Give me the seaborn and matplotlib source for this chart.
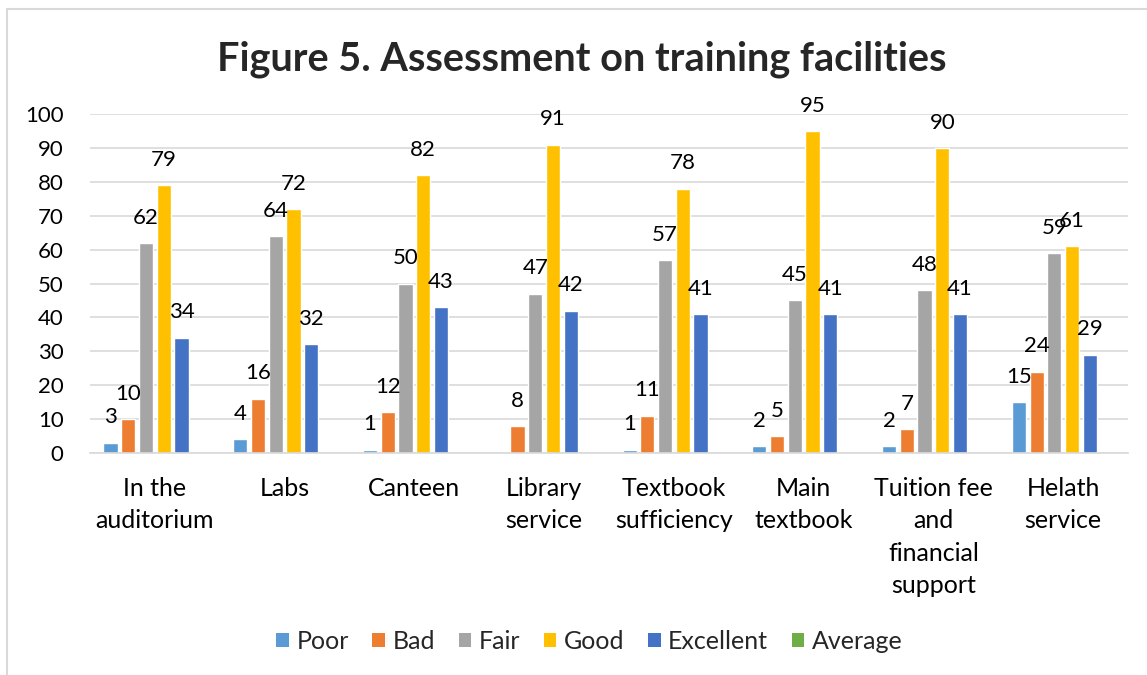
import pandas as pd
import numpy as np
import seaborn as sns
import matplotlib.pyplot as plt
from matplotlib.patches import Patch
from matplotlib.lines import Line2D

# values (Average series has no data)
facilities = ["In the\nauditorium", "Labs", "Canteen", "Library\nservice",
              "Textbook\nsufficiency", "Main\ntextbook",
              "Tuition fee\nand\nfinancial\nsupport", "Helath\nservice"]
poor = [3, 4, 1, np.nan, 1, 2, 2, 15]
bad = [10, 16, 12, 8, 11, 5, 7, 24]
fair = [62, 64, 50, 47, 57, 45, 48, 59]
good = [79, 72, 82, 91, 78, 95, 90, 61]
excellent = [34, 32, 43, 42, 41, 41, 41, 29]
average = [np.nan] * 8

levels = ["Poor", "Bad", "Fair", "Good", "Excellent", "Average"]
colors = ["#5B9BD5", "#ED7D31", "#A5A5A5", "#FFC000", "#4472C4", "#70AD47"]

df = pd.DataFrame({
    "facility": facilities * 6,
    "rating": np.repeat(levels, 8),
    "score": poor + bad + fair + good + excellent + average,
})

sns.set_style("white")
plt.rcParams["font.family"] = ["Lato", "DejaVu Sans"]

fig = plt.figure(figsize=(11.47, 6.75), dpi=100)
ax = fig.add_axes([0.0785, 0.329, 0.905, 0.502])

sns.barplot(
    data=df,
    x="facility",
    y="score",
    hue="rating",
    hue_order=levels,
    order=facilities,
    palette=colors,
    saturation=1,
    errorbar=None,
    width=0.82,
    gap=0.2,
    legend=False,
    ax=ax,
)

for c in ax.containers:
    labels = ["" if np.isnan(v) else f"{v:g}" for v in c.datavalues]
    ax.bar_label(c, labels=labels, padding=11, fontsize=16, color="#000000")

ax.set_ylim(0, 100)
ax.set_yticks(range(0, 101, 10))
ax.set_xlim(-0.5, len(facilities) - 0.5)
ax.yaxis.grid(True, color="#D9D9D9", linewidth=1.2)
ax.set_axisbelow(True)
for s in ["top", "right", "left"]:
    ax.spines[s].set_visible(False)
ax.spines["bottom"].set_color("#D9D9D9")
ax.spines["bottom"].set_linewidth(1.2)
ax.tick_params(axis="both", length=0, colors="#000000")
ax.tick_params(axis="x", pad=17, labelsize=18)
ax.tick_params(axis="y", pad=19, labelsize=16)
for t in ax.get_xticklabels():
    t.set_linespacing(1.5)
    t.set_verticalalignment("top")
ax.set_xlabel("")
ax.set_ylabel("")

fig.text(0.507, 0.912, "Figure 5. Assessment on training facilities",
         ha="center", va="center", fontsize=28.5, fontweight="bold")

handles = [Patch(facecolor=col, edgecolor="none") for col in colors]
fig.legend(handles, levels, loc="center", bbox_to_anchor=(0.514, 0.05),
           ncol=6, frameon=False, fontsize=18, handlelength=0.5,
           handleheight=0.5, handletextpad=0.3, columnspacing=0.95)

# chart frame (top and left edges visible)
fig.add_artist(Line2D([7.5 / 1147, 1], [1 - 8.5 / 675] * 2, color="#D9D9D9", linewidth=1.5))
fig.add_artist(Line2D([7.5 / 1147] * 2, [0, 1 - 8.5 / 675], color="#D9D9D9", linewidth=1.5))

fig.savefig("out.png", dpi=100)
